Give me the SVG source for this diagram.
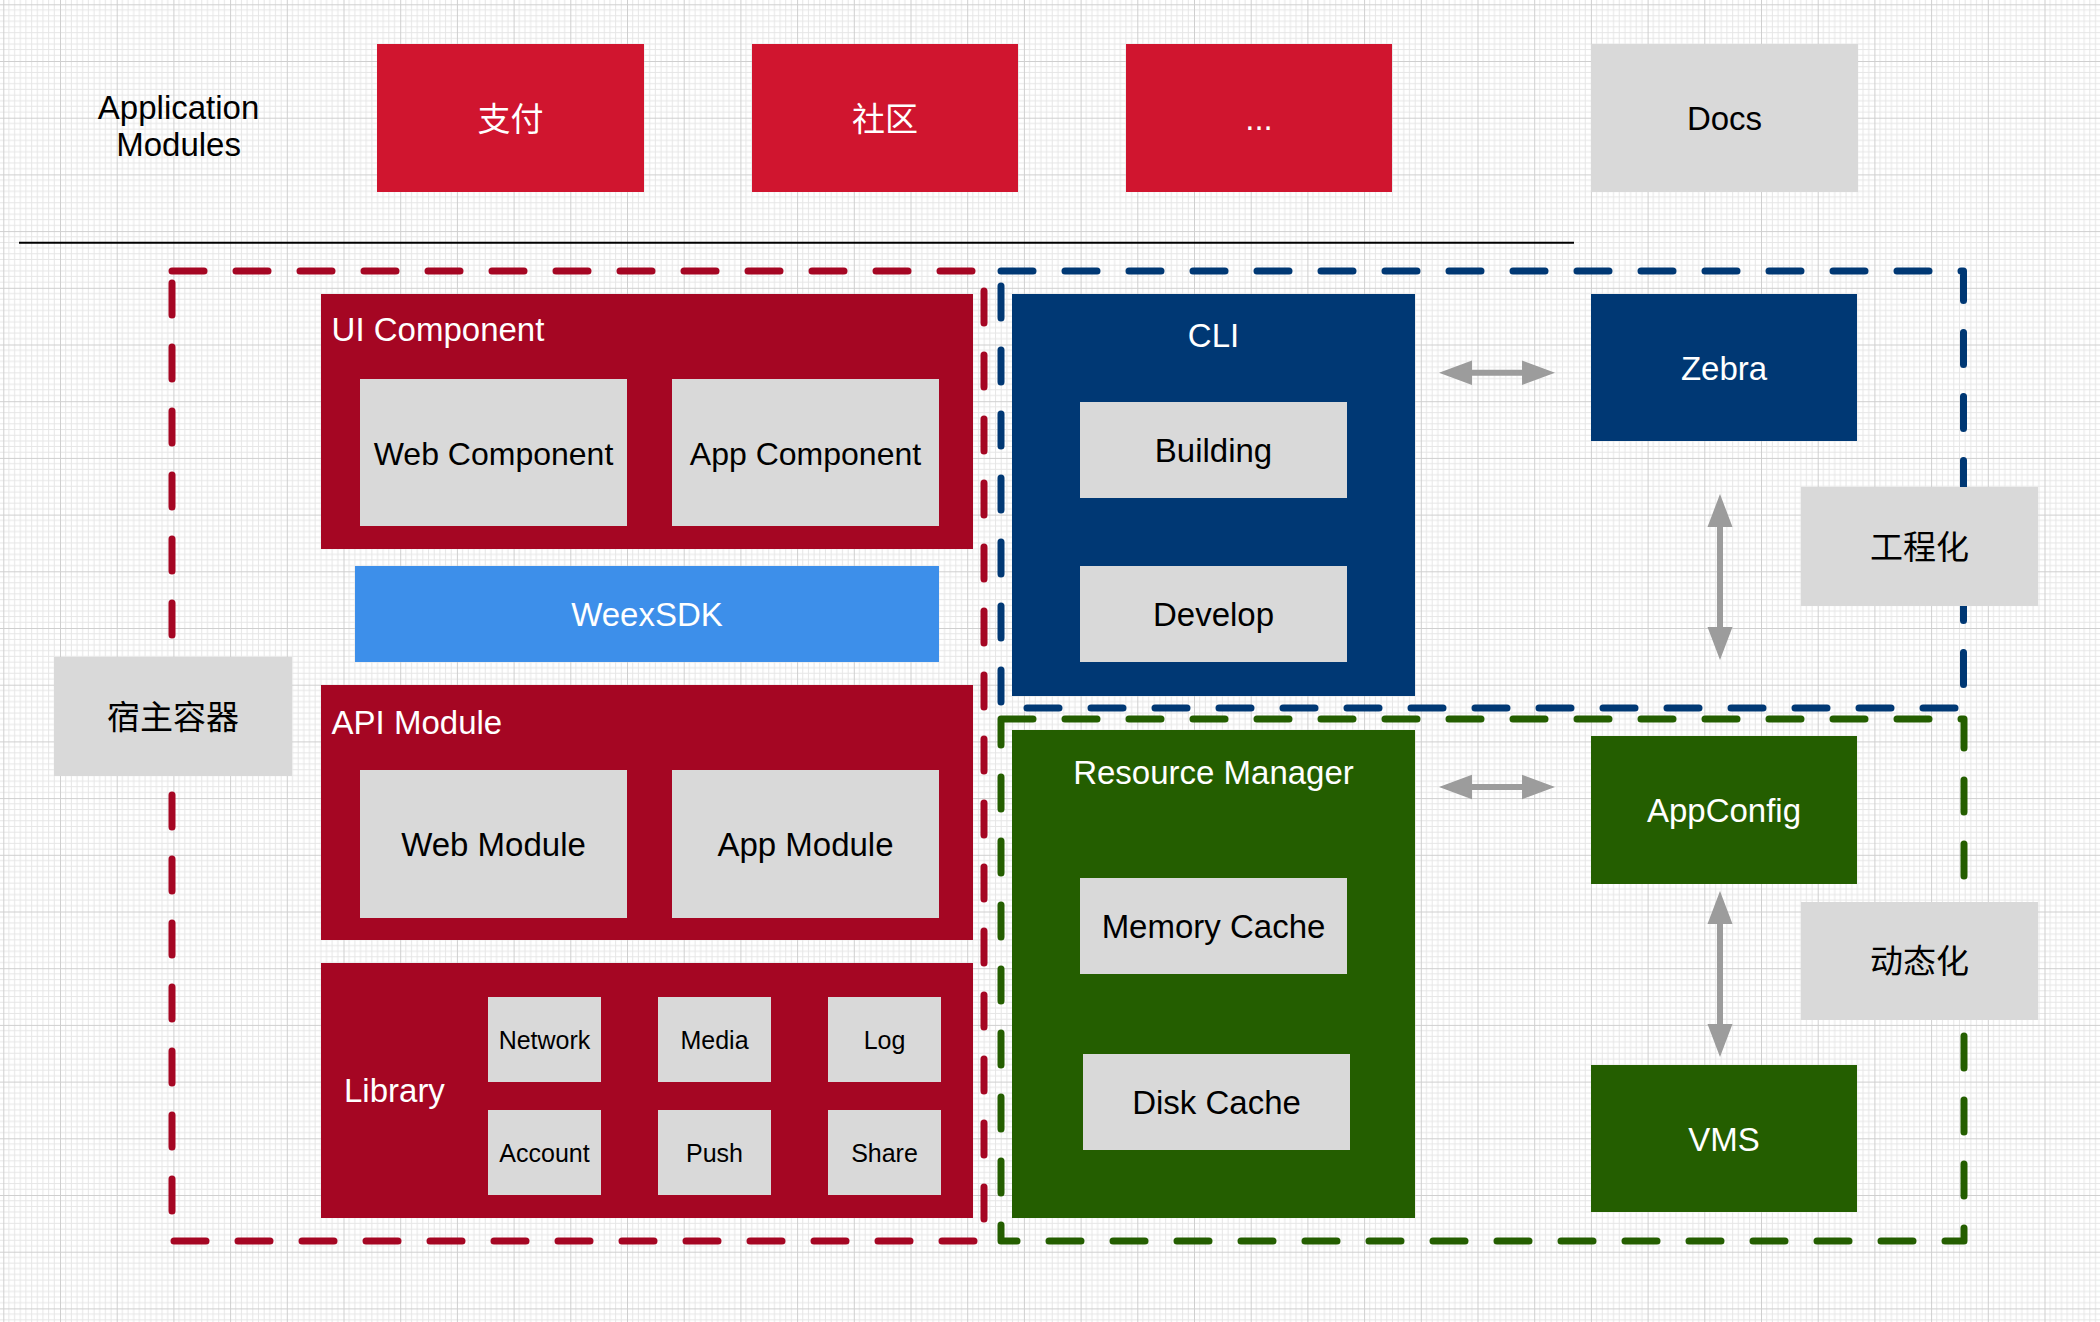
<svg xmlns="http://www.w3.org/2000/svg" width="2100" height="1322" viewBox="0 0 2100 1322">
  <defs>
    <!-- drawing-canvas grid: 10 minor cells per major cell -->
    <pattern id="grid" x="3.3" y="4.3" width="56.7" height="56.7" patternUnits="userSpaceOnUse">
      <path d="M5.67 0V56.7M11.34 0V56.7M17.01 0V56.7M22.68 0V56.7M28.35 0V56.7M34.02 0V56.7M39.69 0V56.7M45.36 0V56.7M51.03 0V56.7M0 5.67H56.7M0 11.34H56.7M0 17.01H56.7M0 22.68H56.7M0 28.35H56.7M0 34.02H56.7M0 39.69H56.7M0 45.36H56.7M0 51.03H56.7" fill="none" stroke="#e6e6e6" stroke-width="1"/>
      <path d="M0.5 0V56.7M0 0.5H56.7" fill="none" stroke="#cfcfcf" stroke-width="1"/>
    </pattern>
  </defs>
  <style>
    .app { fill: #d0152f; }
    .red { fill: #a50623; }
    .blue { fill: #003874; }
    .green { fill: #245e00; }
    .gray { fill: #d9d9d9; }
    .sdk { fill: #3d8fea; }
    .zone { fill: none; stroke-width: 7; stroke-dasharray: 32 32; stroke-linecap: round; stroke-linejoin: round; }
    .zone-red { stroke: #a50623; }
    .zone-blue { stroke: #003874; }
    .zone-green { stroke: #245e00; }
    .link { fill: #9c9c9c; }
    text { font-family: "Liberation Sans", "Noto Sans CJK SC", sans-serif; font-size: 33px; }
    .c { text-anchor: middle; }
    .w { fill: #ffffff; }
    .k { fill: #000000; }
    .sm { font-size: 25px; }
    .md { font-size: 32px; }
  </style>

  <!-- background -->
  <rect x="0" y="0" width="2100" height="1322" fill="#ffffff"/>
  <rect x="0" y="0" width="2100" height="1322" fill="url(#grid)"/>

  <!-- divider between application modules and the platform -->
  <line x1="19" y1="242.7" x2="1574" y2="242.7" stroke="#000000" stroke-width="2"/>

  <!-- grouping zones -->
  <g id="zones">
    <rect id="zone-host" class="zone zone-red" x="172" y="271" width="812" height="970"/>
    <rect id="zone-engineering" class="zone zone-blue" x="1001" y="271" width="962.5" height="437"/>
    <rect id="zone-dynamic" class="zone zone-green" x="1001" y="719" width="963" height="522"/>
  </g>

  <!-- application modules row -->
  <g id="application-modules">
    <text class="c k" x="178.6" y="119">Application</text>
    <text class="c k" x="178.6" y="156">Modules</text>
  </g>
  <g id="pay">
    <rect class="app" x="377" y="44" width="267" height="148"/>
    <text class="c w" x="510.5" y="130.5">支付</text>
  </g>
  <g id="community">
    <rect class="app" x="752" y="44" width="266" height="148"/>
    <text class="c w" x="885" y="130.5">社区</text>
  </g>
  <g id="more">
    <rect class="app" x="1126" y="44" width="266" height="148"/>
    <text class="c w" x="1259" y="130">...</text>
  </g>
  <g id="docs">
    <rect class="gray" x="1591" y="44" width="267" height="148"/>
    <text class="c k" x="1724.5" y="130">Docs</text>
  </g>

  <!-- host container stack -->
  <g id="ui-component">
    <rect class="red" x="321" y="294" width="652" height="255"/>
    <text class="w" x="331.6" y="341">UI Component</text>
  </g>
  <g id="web-component">
    <rect class="gray" x="360" y="379" width="267" height="147"/>
    <text class="c k md" x="493.5" y="464.5">Web Component</text>
  </g>
  <g id="app-component">
    <rect class="gray" x="672" y="379" width="267" height="147"/>
    <text class="c k md" x="805.5" y="464.5">App Component</text>
  </g>
  <g id="weexsdk">
    <rect class="sdk" x="355" y="566" width="584" height="96"/>
    <text class="c w" x="647" y="626">WeexSDK</text>
  </g>
  <g id="api-module">
    <rect class="red" x="321" y="685" width="652" height="255"/>
    <text class="w" x="331.6" y="734">API Module</text>
  </g>
  <g id="web-module">
    <rect class="gray" x="360" y="770" width="267" height="148"/>
    <text class="c k" x="493.5" y="856">Web Module</text>
  </g>
  <g id="app-module">
    <rect class="gray" x="672" y="770" width="267" height="148"/>
    <text class="c k" x="805.5" y="856">App Module</text>
  </g>
  <g id="library">
    <rect class="red" x="321" y="963" width="652" height="255"/>
    <text class="w" x="344" y="1102">Library</text>
  </g>
  <g id="network">
    <rect class="gray" x="488" y="997" width="113" height="85"/>
    <text class="c k sm" x="544.5" y="1048.5">Network</text>
  </g>
  <g id="media">
    <rect class="gray" x="658" y="997" width="113" height="85"/>
    <text class="c k sm" x="714.5" y="1048.5">Media</text>
  </g>
  <g id="log">
    <rect class="gray" x="828" y="997" width="113" height="85"/>
    <text class="c k sm" x="884.5" y="1048.5">Log</text>
  </g>
  <g id="account">
    <rect class="gray" x="488" y="1110" width="113" height="85"/>
    <text class="c k sm" x="544.5" y="1161.5">Account</text>
  </g>
  <g id="push">
    <rect class="gray" x="658" y="1110" width="113" height="85"/>
    <text class="c k sm" x="714.5" y="1161.5">Push</text>
  </g>
  <g id="share">
    <rect class="gray" x="828" y="1110" width="113" height="85"/>
    <text class="c k sm" x="884.5" y="1161.5">Share</text>
  </g>
  <g id="host-container">
    <rect class="gray" x="54" y="657" width="238" height="119"/>
    <text class="c k" x="173" y="729">宿主容器</text>
  </g>

  <!-- engineering -->
  <g id="cli">
    <rect class="blue" x="1012" y="294" width="403" height="402"/>
    <text class="c w" x="1213.5" y="347">CLI</text>
  </g>
  <g id="building">
    <rect class="gray" x="1080" y="402" width="267" height="96"/>
    <text class="c k" x="1213.5" y="462">Building</text>
  </g>
  <g id="develop">
    <rect class="gray" x="1080" y="566" width="267" height="96"/>
    <text class="c k" x="1213.5" y="626">Develop</text>
  </g>
  <g id="zebra">
    <rect class="blue" x="1591" y="294" width="266" height="147"/>
    <text class="c w" x="1724" y="379.5">Zebra</text>
  </g>
  <g id="engineering">
    <rect class="gray" x="1801" y="487" width="237" height="119"/>
    <text class="c k" x="1919.5" y="559">工程化</text>
  </g>

  <!-- dynamic delivery -->
  <g id="resource-manager">
    <rect class="green" x="1012" y="730" width="403" height="488"/>
    <text class="c w" x="1213.5" y="784">Resource Manager</text>
  </g>
  <g id="memory-cache">
    <rect class="gray" x="1080" y="878" width="267" height="96"/>
    <text class="c k" x="1213.5" y="938">Memory Cache</text>
  </g>
  <g id="disk-cache">
    <rect class="gray" x="1083" y="1054" width="267" height="96"/>
    <text class="c k" x="1216.5" y="1114">Disk Cache</text>
  </g>
  <g id="appconfig">
    <rect class="green" x="1591" y="736" width="266" height="148"/>
    <text class="c w" x="1724" y="822">AppConfig</text>
  </g>
  <g id="vms">
    <rect class="green" x="1591" y="1065" width="266" height="147"/>
    <text class="c w" x="1724" y="1150.5">VMS</text>
  </g>
  <g id="dynamic">
    <rect class="gray" x="1801" y="902" width="237" height="118"/>
    <text class="c k" x="1919.5" y="973">动态化</text>
  </g>

  <!-- connectors: double-headed block arrows -->
  <g id="connectors">
    <polygon id="cli-zebra" class="link" points="1439,372.7 1472,360.5 1472,369.7 1522,369.7 1522,360.5 1555,372.7 1522,384.9 1522,375.7 1472,375.7 1472,384.9"/>
    <polygon id="zebra-engineering" class="link" points="1720,494 1732.5,527 1723,527 1723,627 1732.5,627 1720,660 1707.5,627 1717,627 1717,527 1707.5,527"/>
    <polygon id="resource-appconfig" class="link" points="1439,787 1472,774.8 1472,784 1522,784 1522,774.8 1555,787 1522,799.2 1522,790 1472,790 1472,799.2"/>
    <polygon id="appconfig-vms" class="link" points="1720,891 1732.5,924 1723,924 1723,1024 1732.5,1024 1720,1057 1707.5,1024 1717,1024 1717,924 1707.5,924"/>
  </g>
</svg>
